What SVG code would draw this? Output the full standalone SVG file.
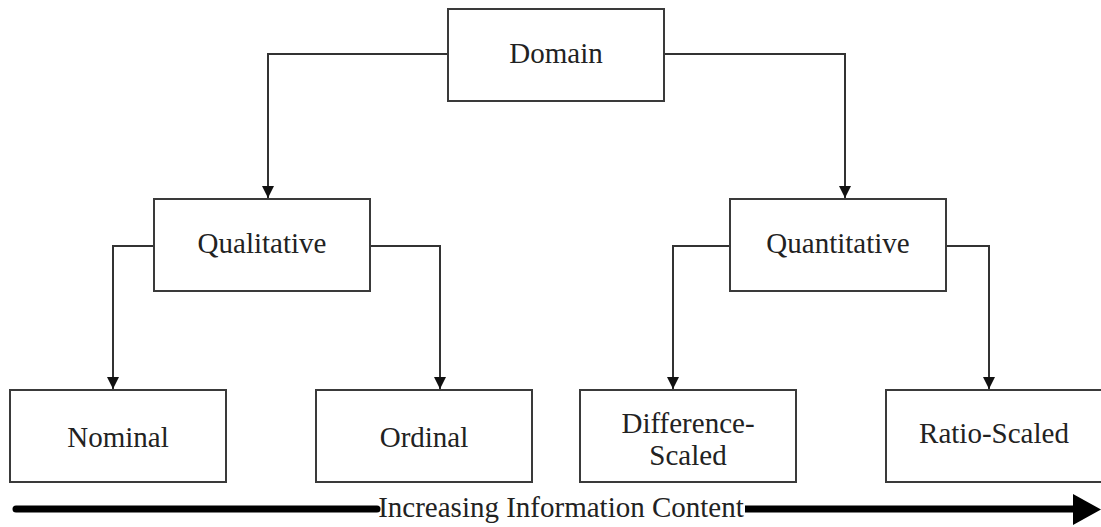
<svg xmlns="http://www.w3.org/2000/svg" width="1101" height="527" viewBox="0 0 1101 527">
<style>
.box{fill:#fff;stroke:#3a3a3a;stroke-width:2}
.lbl{font-family:"Liberation Serif","Times New Roman",serif;font-size:29px;fill:#222;text-anchor:middle}
.conn{fill:none;stroke:#333;stroke-width:2}
</style>
<defs>
<marker id="arr" viewBox="0 0 12 12" refX="12" refY="6" markerWidth="12" markerHeight="12" markerUnits="userSpaceOnUse" orient="auto">
<path d="M0,0 L12,6 L0,12 Z" fill="#111"/>
</marker>
</defs>
<rect width="1101" height="527" fill="#fff"/>
<g id="connectors">
<path class="conn" d="M448,54 H268 V198" marker-end="url(#arr)"/>
<path class="conn" d="M664,54 H845 V198" marker-end="url(#arr)"/>
<path class="conn" d="M154,246 H113 V389" marker-end="url(#arr)"/>
<path class="conn" d="M370,246 H440 V389" marker-end="url(#arr)"/>
<path class="conn" d="M730,246 H673 V389" marker-end="url(#arr)"/>
<path class="conn" d="M946,246 H989 V389" marker-end="url(#arr)"/>
</g>
<g id="domain"><rect class="box" x="448" y="9" width="216" height="92"/><text class="lbl" x="556" y="63">Domain</text></g>
<g id="qualitative"><rect class="box" x="154" y="199" width="216" height="92"/><text class="lbl" x="262" y="253">Qualitative</text></g>
<g id="quantitative"><rect class="box" x="730" y="199" width="216" height="92"/><text class="lbl" x="838" y="253">Quantitative</text></g>
<g id="nominal"><rect class="box" x="10" y="390" width="216" height="92"/><text class="lbl" x="118" y="447">Nominal</text></g>
<g id="ordinal"><rect class="box" x="316" y="390" width="216" height="92"/><text class="lbl" x="424" y="447">Ordinal</text></g>
<g id="difference"><rect class="box" x="580" y="390" width="216" height="92"/><text class="lbl" x="688" y="433">Difference-</text><text class="lbl" x="688" y="465">Scaled</text></g>
<g id="ratio"><rect class="box" x="886" y="390" width="216" height="92"/><text class="lbl" x="994" y="443">Ratio-Scaled</text></g>
<g id="scale-arrow">
<line x1="16" y1="509" x2="377" y2="509" stroke="#000" stroke-width="7" stroke-linecap="round"/>
<line x1="745" y1="509" x2="1076" y2="509" stroke="#000" stroke-width="7"/>
<path d="M1073,494 L1101,509.5 L1073,525 Z" fill="#000"/>
<text class="lbl" x="561" y="517">Increasing Information Content</text>
</g>
</svg>
